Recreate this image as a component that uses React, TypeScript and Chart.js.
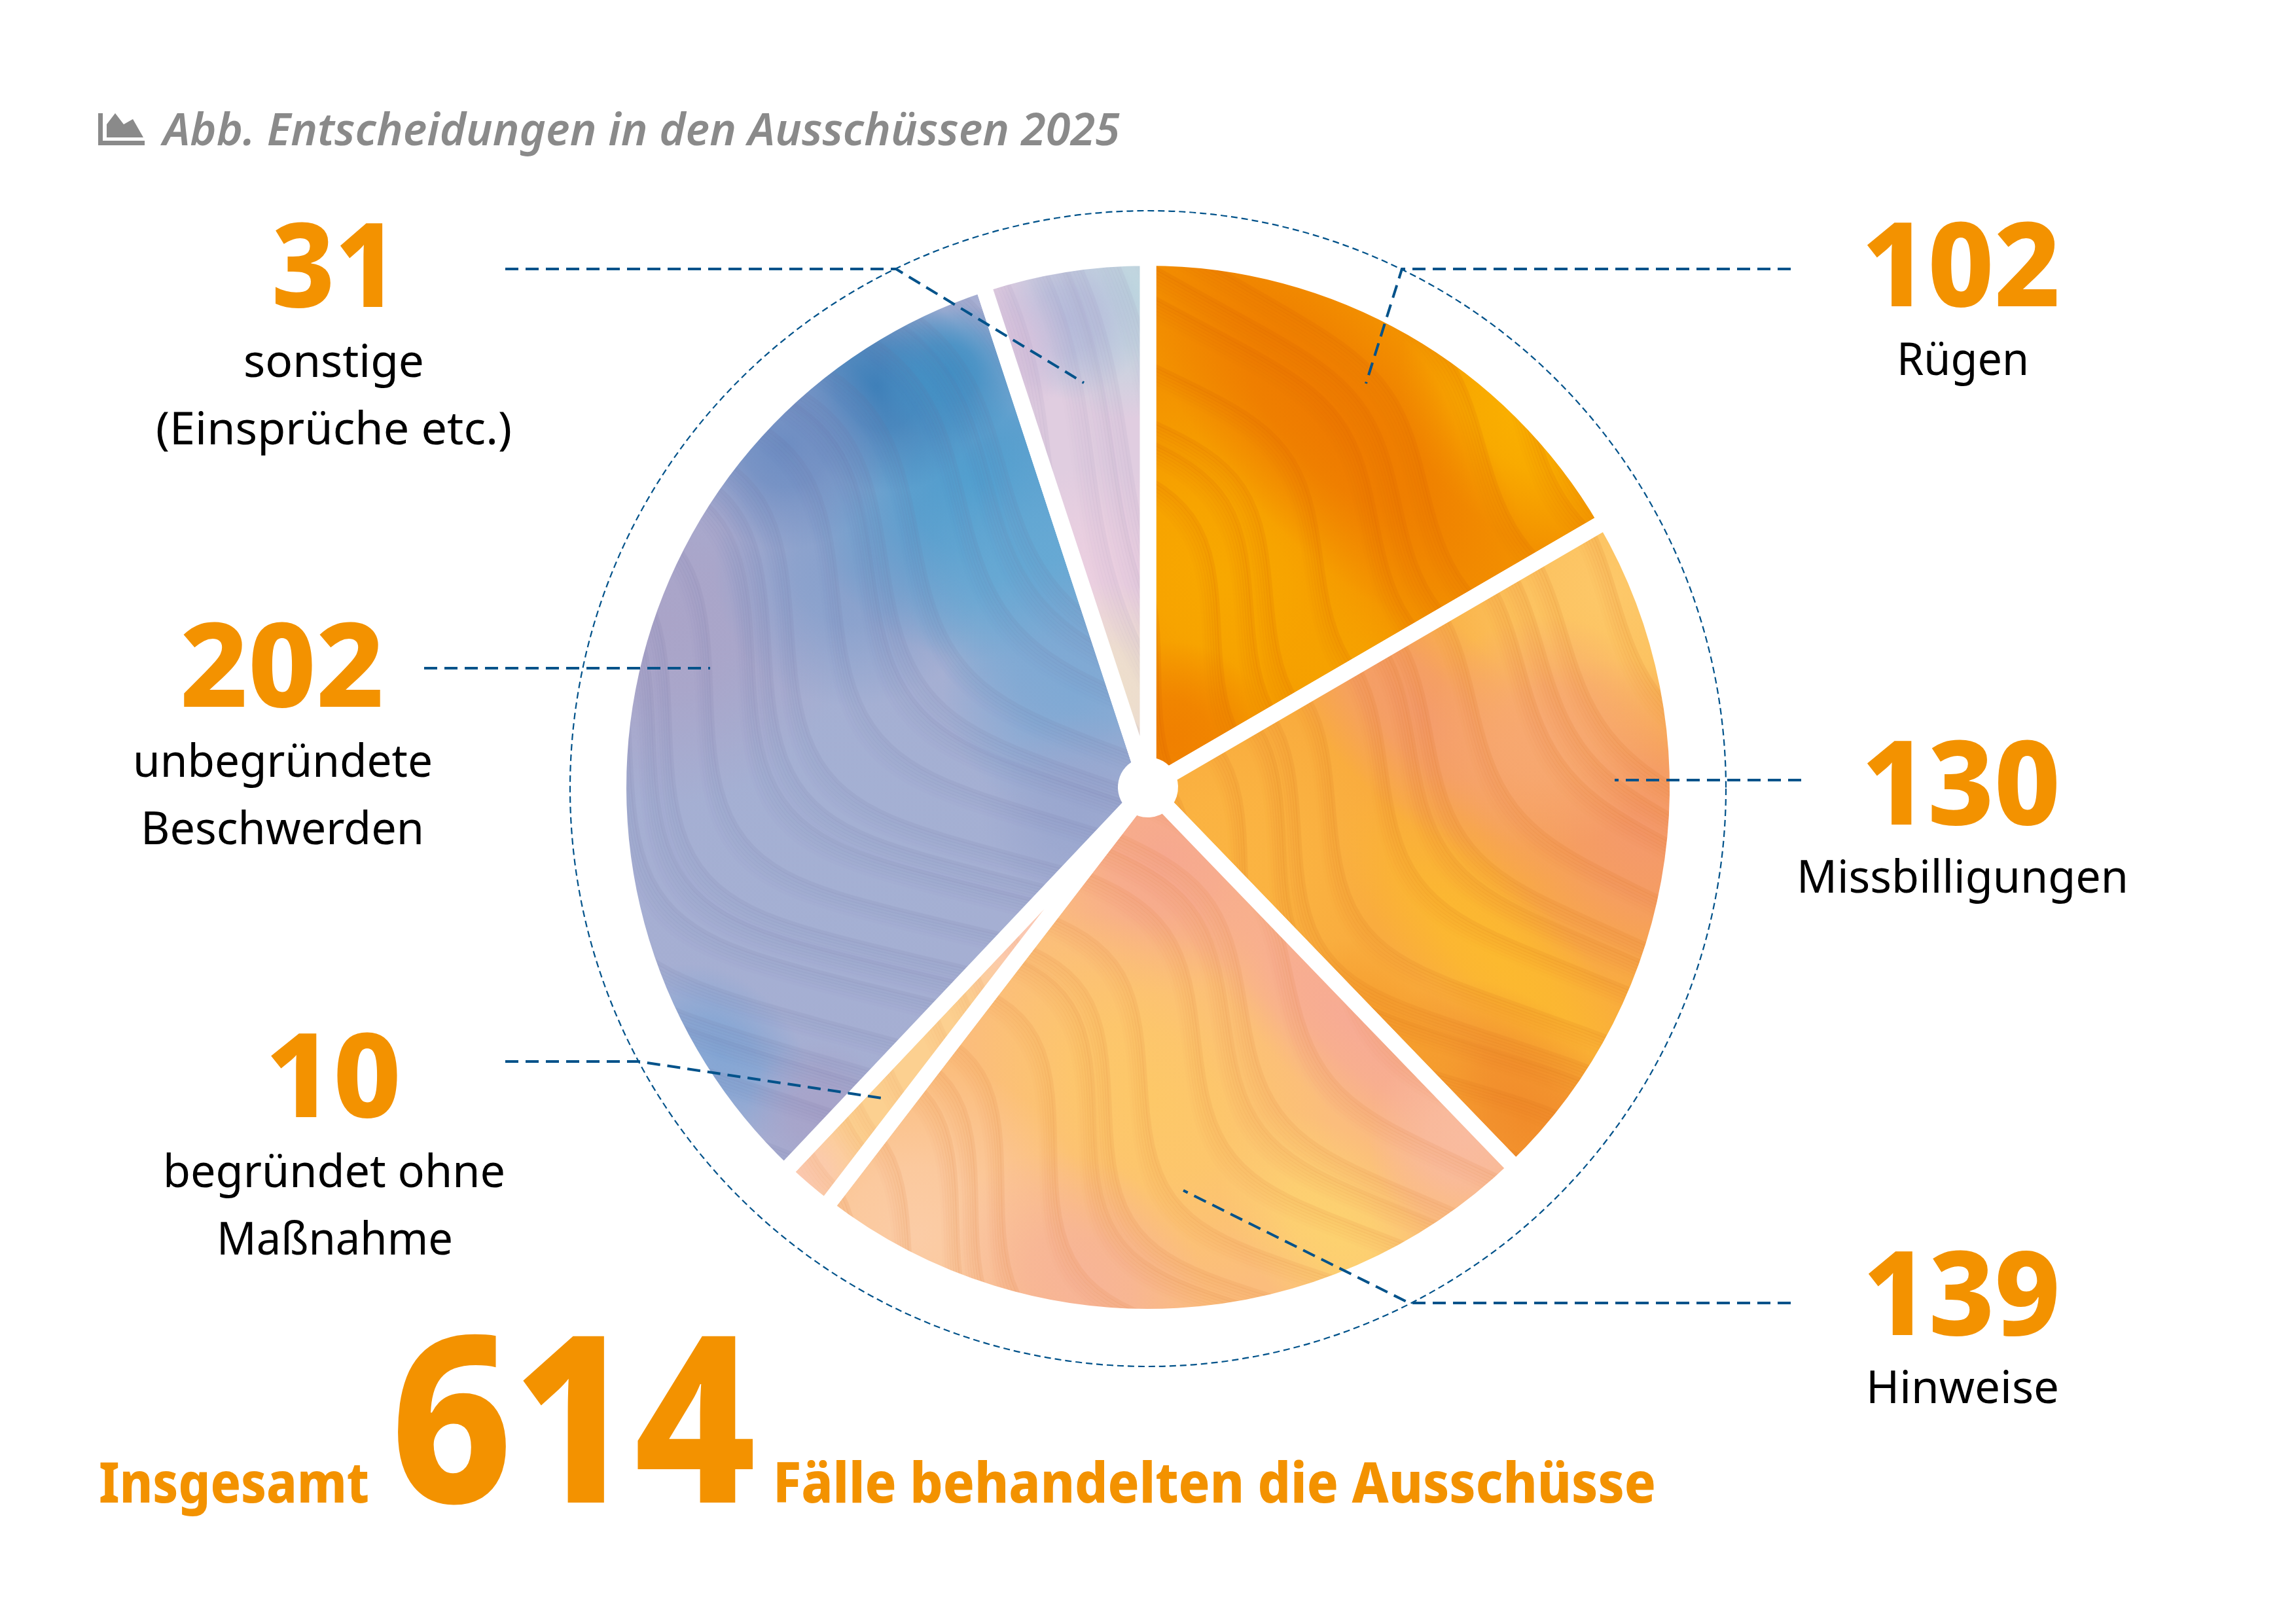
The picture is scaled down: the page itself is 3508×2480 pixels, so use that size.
import React, { useEffect, useRef } from "react";
import { Chart, registerables } from "chart.js";

Chart.register(...registerables);

const categories = [
  "Rügen",
  "Missbilligungen",
  "Hinweise",
  "begründet ohne Maßnahme",
  "unbegründete Beschwerden",
  "sonstige (Einsprüche etc.)",
];
const values = [102, 130, 139, 10, 202, 31];
const titleText = "Abb. Entscheidungen in den Ausschüssen 2025";
const totalBefore = "Insgesamt";
const totalValue = "614";
const totalAfter = "Fälle behandelten die Ausschüsse";

const ORANGE = "#f39200";
const LINE = "#00528a";
const W = 3508;
const H = 2480;
const CX = 1754;
const CY = 1203;
const PAD = 822;

// x, y, long radius, colour, short/long ratio (stretched along the look's flow direction)
type Blob = [number, number, number, string, number?];
type Look = {
  base: string;
  blobs: Blob[];
  tint: string;
  theta: number;
  amp: number;
  wave: number;
  phase: number;
  step: number;
  alpha: number;
  ox: number;
  oy: number;
};

const looks: Look[] = [
  {
    base: "#f39200",
    blobs: [
      [1860, 880, 330, "#f8a800", 0.75],
      [2060, 1030, 170, "#f6a200", 0.7],
      [2330, 640, 230, "#fab000", 0.7],
      [2030, 640, 430, "#ee7a00", 0.4],
      [1790, 1130, 150, "#f08000", 1],
    ],
    tint: "#d45c00",
    theta: 48,
    amp: 72,
    wave: 820,
    phase: 0,
    step: 72,
    alpha: 0.06,
    ox: 2010,
    oy: 860,
  },
  {
    base: "#f9ac3e",
    blobs: [
      [2470, 900, 330, "#fdc869", 1],
      [2170, 1090, 330, "#f49c6c", 0.42],
      [2510, 1270, 290, "#f4996c", 0.8],
      [2360, 1120, 180, "#f7a872", 1],
      [2290, 1470, 340, "#fcb92f", 0.32],
      [2330, 1710, 260, "#f18c2a", 0.6],
      [2120, 1600, 200, "#f59c2c", 0.6],
      [1890, 1310, 230, "#fbb442", 1],
    ],
    tint: "#d86818",
    theta: 46,
    amp: 80,
    wave: 860,
    phase: 0,
    step: 64,
    alpha: 0.055,
    ox: 2120,
    oy: 1170,
  },
  {
    base: "#fbbd7c",
    blobs: [
      [1780, 1310, 210, "#f6a88f", 1],
      [2060, 1560, 400, "#f7ab94", 0.3],
      [1760, 1680, 330, "#fdc868", 0.7],
      [2040, 1880, 220, "#fdd26f", 0.6],
      [1400, 1890, 270, "#fbcca6", 1],
      [1650, 1960, 220, "#f7b497", 0.8],
      [2240, 1740, 150, "#f9bb9f", 1],
    ],
    tint: "#df7c38",
    theta: 46,
    amp: 78,
    wave: 840,
    phase: 0,
    step: 66,
    alpha: 0.055,
    ox: 1870,
    oy: 1560,
  },
  {
    base: "#fcd090",
    blobs: [
      [1225, 1800, 110, "#fbc9b0", 1],
      [1580, 1420, 150, "#fbc8b4", 1],
    ],
    tint: "#e89050",
    theta: 50,
    amp: 50,
    wave: 800,
    phase: 1,
    step: 60,
    alpha: 0.05,
    ox: 1400,
    oy: 1600,
  },
  {
    base: "#a6aed2",
    blobs: [
      [1300, 1250, 430, "#a4b0d3", 1],
      [1020, 950, 280, "#aaa4c8", 1],
      [1300, 870, 210, "#86a0cc", 1],
      [1500, 740, 270, "#4b9ccd", 1],
      [1340, 590, 170, "#3f80b9", 0.9],
      [1450, 570, 110, "#4290c4", 1],
      [1200, 680, 160, "#6d8dc2", 1],
      [1600, 880, 220, "#65a9d4", 1],
      [1640, 1050, 200, "#7fa9d4", 1],
      [1100, 1610, 160, "#84a6d4", 0.7],
      [1250, 1700, 110, "#a7a3c9", 1],
      [1650, 1240, 150, "#9aa7cf", 1],
    ],
    tint: "#66689c",
    theta: 44,
    amp: 95,
    wave: 1000,
    phase: 0,
    step: 58,
    alpha: 0.04,
    ox: 1370,
    oy: 840,
  },
  {
    base: "#e0cde0",
    blobs: [
      [1725, 450, 190, "#bdd6df", 1],
      [1630, 490, 120, "#b7bcdb", 1],
      [1530, 530, 110, "#d8c2dc", 1],
      [1680, 880, 170, "#ebcfe0", 1],
      [1690, 1060, 170, "#efe0ca", 1],
    ],
    tint: "#8d82aa",
    theta: 66,
    amp: 50,
    wave: 1300,
    phase: 0,
    step: 42,
    alpha: 0.04,
    ox: 1650,
    oy: 700,
  },
];

const leaders: number[][][] = [
  [[772, 411], [1369, 411], [1656, 585]],
  [[648, 1021], [1085, 1021]],
  [[2736, 411], [2142, 411], [2087, 586]],
  [[2752, 1192], [2467, 1192]],
  [[2736, 1991], [2153, 1991], [1808, 1819]],
  [[772, 1622], [976, 1622], [1347, 1678]],
];

type Placed = { t: string; x: number; y: number; w: number; s: number; b?: boolean };

const bigSize = 178;
const labelSize = 69;

const placed: Placed[] = [
  { t: String(values[5]), x: 415, y: 469, w: 193, s: bigSize, b: true },
  { t: "sonstige", x: 372, y: 576, w: 276, s: labelSize },
  { t: "(Einsprüche etc.)", x: 238, y: 679, w: 544, s: labelSize },
  { t: String(values[4]), x: 275, y: 1080, w: 312, s: bigSize, b: true },
  { t: "unbegründete", x: 203, y: 1187, w: 458, s: labelSize },
  { t: "Beschwerden", x: 215, y: 1290, w: 433, s: labelSize },
  { t: String(values[3]), x: 405, y: 1707, w: 208, s: bigSize, b: true },
  { t: "begründet ohne", x: 249, y: 1814, w: 523, s: labelSize },
  { t: "Maßnahme", x: 331, y: 1917, w: 361, s: labelSize },
  { t: String(values[0]), x: 2844, y: 468, w: 304, s: bigSize, b: true },
  { t: "Rügen", x: 2898, y: 573, w: 202, s: labelSize },
  { t: String(values[1]), x: 2844, y: 1260, w: 304, s: bigSize, b: true },
  { t: "Missbilligungen", x: 2745, y: 1364, w: 507, s: labelSize },
  { t: String(values[2]), x: 2846, y: 2040, w: 302, s: bigSize, b: true },
  { t: "Hinweise", x: 2851, y: 2144, w: 295, s: labelSize },
  { t: totalBefore, x: 151, y: 2296, w: 413, s: 85, b: true },
  { t: totalValue, x: 597, y: 2296, w: 558, s: 356, b: true },
  { t: totalAfter, x: 1181, y: 2296, w: 1349, s: 85, b: true },
];

function rgba(hex: string, a: number) {
  const n = parseInt(hex.slice(1), 16);
  return `rgba(${(n >> 16) & 255},${(n >> 8) & 255},${n & 255},${a})`;
}

function makePattern(main: CanvasRenderingContext2D, look: Look) {
  const off = document.createElement("canvas");
  off.width = W;
  off.height = H;
  const c = off.getContext("2d")!;
  c.fillStyle = look.base;
  c.fillRect(0, 0, W, H);
  const th = (look.theta * Math.PI) / 180;
  for (const [x, y, r, col, ratio] of look.blobs) {
    c.save();
    c.translate(x, y);
    c.rotate(th);
    c.scale(1, ratio ?? 1);
    const g = c.createRadialGradient(0, 0, 0, 0, 0, r);
    g.addColorStop(0, rgba(col, 1));
    g.addColorStop(0.4, rgba(col, 0.8));
    g.addColorStop(1, rgba(col, 0));
    c.fillStyle = g;
    c.fillRect(-r, -r, 2 * r, 2 * r);
    c.restore();
  }
  const dx = Math.cos(th);
  const dy = Math.sin(th);
  const px = -dy;
  const py = dx;
  let u = -1400;
  let k = 0;
  while (u < 1400) {
    for (let j = 0; j < 7; j++) {
      c.beginPath();
      for (let t = -1600; t <= 1600; t += 20) {
        const wob =
          look.amp * Math.sin((2 * Math.PI * t) / look.wave + look.phase + u * 0.0009) +
          0.12 * look.amp * Math.sin((4 * Math.PI * t) / look.wave + u * 0.002);
        const d = u + wob * (1 + 0.3 * Math.sin(u * 0.004)) + j * 5;
        const x = look.ox + dx * t + px * d;
        const y = look.oy + dy * t + py * d;
        if (t === -1600) c.moveTo(x, y);
        else c.lineTo(x, y);
      }
      c.strokeStyle = rgba(look.tint, look.alpha * 2.2 * (1 - j / 7));
      c.lineWidth = 6;
      c.stroke();
    }
    k += 1;
    u += look.step * (1 + 0.55 * Math.sin(k * 1.7));
  }
  return main.createPattern(off, "no-repeat")!;
}

const overlayPlugin = {
  id: "overlay",
  afterDatasetsDraw(chart: any) {
    const { ctx } = chart;
    const arc = chart.getDatasetMeta(0).data[0];
    ctx.save();
    ctx.strokeStyle = LINE;
    ctx.lineWidth = 2.2;
    ctx.setLineDash([10, 6]);
    ctx.beginPath();
    ctx.arc(arc.x, arc.y + 2, 883, 0, Math.PI * 2);
    ctx.stroke();
    ctx.lineWidth = 4;
    ctx.setLineDash([20, 11]);
    for (const pts of leaders) {
      ctx.beginPath();
      pts.forEach(([x, y], i) => (i ? ctx.lineTo(x, y) : ctx.moveTo(x, y)));
      ctx.stroke();
    }
    ctx.restore();
  },
};

export default function App() {
  const ref = useRef<HTMLCanvasElement>(null);
  useEffect(() => {
    document.body.style.margin = "0";
    document.body.style.background = "#fff";
    const canvas = ref.current!;
    const ctx = canvas.getContext("2d")!;
    const patterns = looks.map((l) => makePattern(ctx, l));
    const chart = new Chart(canvas, {
      type: "doughnut",
      data: {
        labels: categories,
        datasets: [
          {
            data: values,
            backgroundColor: patterns as any,
            borderColor: "#ffffff",
            borderWidth: 25,
            borderAlign: "center",
            hoverOffset: 0,
          },
        ],
      },
      options: {
        responsive: false,
        animation: false,
        events: [],
        cutout: 33.5,
        rotation: 0,
        layout: {
          padding: { left: CX - PAD, right: W - CX - PAD, top: CY - PAD, bottom: H - CY - PAD },
        },
        plugins: { legend: { display: false }, tooltip: { enabled: false } },
      } as any,
      plugins: [overlayPlugin],
    });
    return () => chart.destroy();
  }, []);

  return (
    <div style={{ position: "relative", width: W, height: H, background: "#fff", overflow: "hidden" }}>
      <canvas ref={ref} width={W} height={H} style={{ position: "absolute", left: 0, top: 0, width: W, height: H }} />
      <svg
        width={W}
        height={H}
        viewBox={`0 0 ${W} ${H}`}
        style={{ position: "absolute", left: 0, top: 0, pointerEvents: "none" }}
        fontFamily="'Noto Sans', 'Open Sans', sans-serif"
      >
        <path d="M150 173h7v42h64v7h-71z" fill="#8a8a8a" />
        <path d="M163 210v-20l13-17 13 17 14-8 16 28z" fill="#8a8a8a" />
        <text
          x={249}
          y={222}
          fontSize={69}
          fontStyle="italic"
          fontWeight={600}
          fill="#8a8a8a"
          textLength={1462}
          lengthAdjust="spacingAndGlyphs"
        >
          {titleText}
        </text>
        {placed.map((p, i) => (
          <text
            key={i}
            x={p.x}
            y={p.y}
            fontSize={p.s}
            fontWeight={p.b ? 800 : 400}
            fill={p.b ? ORANGE : "#000"}
            textLength={p.w}
            lengthAdjust="spacingAndGlyphs"
          >
            {p.t}
          </text>
        ))}
      </svg>
    </div>
  );
}
